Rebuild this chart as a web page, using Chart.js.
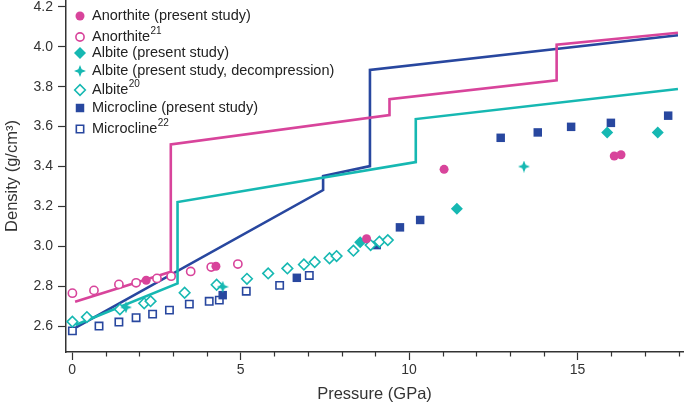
<!DOCTYPE html>
<html>
<head>
<meta charset="utf-8">
<script src="https://cdn.jsdelivr.net/npm/chart.js@4.4.0/dist/chart.umd.min.js"></script>
<style>
  html, body { margin: 0; padding: 0; background: #fff; }
</style>
</head>
<body>
<canvas id="chart" width="685" height="403"></canvas>
<script>
// ---- data ----
// Anorthite (present study), filled circles
const anoP = [2.2, 4.27, 8.74, 11.04, 16.09, 16.29];
const anoD = [2.83, 2.90, 3.038, 3.386, 3.453, 3.459];
// Anorthite ref 21, open circles
const ano21P = [0.01, 0.65, 1.39, 1.90, 2.52, 2.94, 3.52, 4.13, 4.92];
const ano21D = [2.765, 2.779, 2.809, 2.817, 2.839, 2.85, 2.874, 2.896, 2.911];
// Albite (present study), filled diamonds
const albP = [8.55, 11.42, 15.88, 17.38];
const albD = [3.02, 3.188, 3.571, 3.571];
// Albite decompression, stars
const albDecP = [1.6, 4.47, 13.41];
const albDecD = [2.694, 2.797, 3.40];
// Albite ref 20, open diamonds
const alb20P = [0.01, 0.44, 1.42, 2.14, 2.33, 3.34, 4.29, 5.19, 5.82, 6.39, 6.88, 7.20, 7.64, 7.85, 8.35, 8.86, 9.12, 9.37];
const alb20D = [2.622, 2.645, 2.684, 2.714, 2.725, 2.767, 2.807, 2.837, 2.864, 2.889, 2.909, 2.921, 2.94, 2.951, 2.978, 3.006, 3.023, 3.031];
// Microcline (present study), filled squares
const micP = [4.47, 6.67, 9.04, 9.73, 10.33, 12.72, 13.82, 14.81, 15.99, 17.69];
const micD = [2.755, 2.842, 3.006, 3.095, 3.132, 3.544, 3.571, 3.599, 3.619, 3.655];
// Microcline ref 22, open squares
const mic22P = [0.01, 0.80, 1.39, 1.90, 2.39, 2.89, 3.48, 4.07, 4.37, 5.17, 6.16, 7.04];
const mic22D = [2.576, 2.60, 2.62, 2.642, 2.66, 2.68, 2.71, 2.724, 2.73, 2.775, 2.804, 2.854];

// calculated density curves (step lines)
const anoLineP = [0.09, 2.93, 2.93, 9.42, 9.42, 14.38, 14.38, 17.98];
const anoLineD = [2.722, 2.872, 3.511, 3.658, 3.738, 3.832, 4.011, 4.071];
const albLineP = [0.1, 3.13, 3.13, 10.2, 10.2, 17.98];
const albLineD = [2.605, 2.814, 3.222, 3.422, 3.638, 3.789];
const micLineP = [0.12, 7.45, 7.45, 8.84, 8.84, 17.98];
const micLineD = [2.593, 3.282, 3.352, 3.402, 3.884, 4.058];

// axes
const xMajorTicks = [0, 5, 10, 15];
const xMinorTicks = [1, 2, 3, 4, 6, 7, 8, 9, 11, 12, 13, 14, 16, 17, 18];
const yTicks = [2.6, 2.8, 3.0, 3.2, 3.4, 3.6, 3.8, 4.0, 4.2];

// legend
const legendLabels = ['Anorthite (present study)', 'Anorthite', 'Albite (present study)',
  'Albite (present study, decompression)', 'Albite', 'Microcline (present study)', 'Microcline'];
const legendSup = ['', '21', '', '', '20', '', '22'];

const MAGENTA = '#d8449b';
const TEAL = '#16b8b2';
const NAVY = '#28479f';
const AXIS = '#333';
const FONT = "'Liberation Sans', Arial, sans-serif";

function pts(xs, ys) {
    return xs.map((x, i) => ({ x: x, y: ys[i] }));
}

// small four-pointed star for the decompression points
function makeStar(size, color) {
    const c = document.createElement('canvas');
    c.width = size; c.height = size;
    const g = c.getContext('2d');
    const m = size / 2, r = size / 2, k = size * 0.14;
    g.fillStyle = color;
    g.beginPath();
    g.moveTo(m, m - r);
    g.lineTo(m + k, m - k);
    g.lineTo(m + r, m);
    g.lineTo(m + k, m + k);
    g.lineTo(m, m + r);
    g.lineTo(m - k, m + k);
    g.lineTo(m - r, m);
    g.lineTo(m - k, m - k);
    g.closePath();
    g.fill();
    return c;
}
const star = makeStar(12, TEAL);

const legendRows = [16, 37, 53, 71, 90, 108, 129];

// pin the plot frame to the reference position (left 66, right 683, top 0, bottom 352)
const framePlugin = {
    id: 'frame',
    afterLayout(chart) {
        const area = chart.chartArea;
        const xs = chart.scales.x, ys = chart.scales.y;
        area.top = 0;
        area.right = 683;
        area.width = area.right - area.left;
        area.height = area.bottom - area.top;
        xs.right = 683;
        xs.width = xs.right - xs.left;
        xs.configure();
        ys.top = 0;
        ys.height = ys.bottom - ys.top;
        ys.configure();
    },
    // short minor ticks on the pressure axis
    afterDraw(chart) {
        const ctx = chart.ctx;
        const xs = chart.scales.x;
        const y0 = chart.chartArea.bottom;
        ctx.save();
        ctx.strokeStyle = AXIS;
        ctx.lineWidth = 1.2;
        ctx.beginPath();
        xMinorTicks.forEach(v => {
            const px = Math.round(xs.getPixelForValue(v)) + 0.5;
            ctx.moveTo(px, y0);
            ctx.lineTo(px, y0 + 4.5);
        });
        ctx.stroke();
        ctx.restore();
    }
};

const legendPlugin = {
    id: 'customLegend',
    afterDraw(chart) {
        const ctx = chart.ctx;
        ctx.save();
        legendLabels.forEach((label, i) => {
            const ds = chart.data.datasets[i];
            const y = legendRows[i];
            ctx.fillStyle = ds.backgroundColor;
            ctx.strokeStyle = ds.borderColor;
            ctx.lineWidth = ds.borderWidth;
            Chart.helpers.drawPoint(ctx, {
                pointStyle: ds.pointStyle,
                radius: ds.pointRadius,
                borderWidth: ds.borderWidth,
                rotation: 0
            }, 80, y);
            ctx.fillStyle = '#222';
            ctx.font = '14.5px ' + FONT;
            ctx.textBaseline = 'middle';
            ctx.textAlign = 'left';
            ctx.fillText(label, 92, y);
            if (legendSup[i]) {
                const w = ctx.measureText(label).width;
                ctx.font = '10px ' + FONT;
                ctx.fillText(legendSup[i], 92 + w + 0.5, y - 6);
            }
        });
        ctx.restore();
    }
};

const ctx = document.getElementById('chart');

new Chart(ctx, {
    type: 'scatter',
    data: {
        datasets: [
            { data: pts(anoP, anoD), pointStyle: 'circle', pointRadius: 4.5, backgroundColor: MAGENTA, borderColor: MAGENTA, borderWidth: 0 },
            { data: pts(ano21P, ano21D), pointStyle: 'circle', pointRadius: 4.1, backgroundColor: '#ffffff', borderColor: MAGENTA, borderWidth: 1.6 },
            { data: pts(albP, albD), pointStyle: 'rectRot', pointRadius: 6, backgroundColor: TEAL, borderColor: TEAL, borderWidth: 0 },
            { data: pts(albDecP, albDecD), pointStyle: star, pointRadius: 5, backgroundColor: TEAL, borderColor: TEAL, borderWidth: 0 },
            { data: pts(alb20P, alb20D), pointStyle: 'rectRot', pointRadius: 5.3, backgroundColor: '#ffffff', borderColor: TEAL, borderWidth: 1.6 },
            { data: pts(micP, micD), pointStyle: 'rect', pointRadius: 6, backgroundColor: NAVY, borderColor: NAVY, borderWidth: 0 },
            { data: pts(mic22P, mic22D), pointStyle: 'rect', pointRadius: 5.2, backgroundColor: '#ffffff', borderColor: NAVY, borderWidth: 1.6 },
            // lines, drawn beneath the markers
            { data: pts(anoLineP, anoLineD), showLine: true, pointRadius: 0, borderColor: MAGENTA, borderWidth: 2.6, backgroundColor: MAGENTA },
            { data: pts(albLineP, albLineD), showLine: true, pointRadius: 0, borderColor: TEAL, borderWidth: 2.6, backgroundColor: TEAL },
            { data: pts(micLineP, micLineD), showLine: true, pointRadius: 0, borderColor: NAVY, borderWidth: 2.6, backgroundColor: NAVY }
        ]
    },
    options: {
        responsive: false,
        animation: false,
        devicePixelRatio: 1,
        layout: { padding: { top: 0, right: 2, left: 0, bottom: 0 } },
        plugins: { legend: { display: false }, tooltip: { enabled: false } },
        elements: { line: { tension: 0 } },
        scales: {
            x: {
                type: 'linear',
                min: -0.18,
                max: 18.13,
                afterBuildTicks: (scale) => { scale.ticks = xMajorTicks.map(v => ({ value: v })); },
                afterFit: (scale) => { scale.height = 51; },
                ticks: {
                    autoSkip: false,
                    maxRotation: 0,
                    padding: 2,
                    color: AXIS,
                    font: { family: FONT, size: 14 },
                    callback: (v) => String(v)
                },
                grid: { drawOnChartArea: false, tickLength: 8, tickColor: AXIS, tickWidth: 1.2 },
                border: { color: AXIS, width: 1.5 },
                title: { display: true, text: 'Pressure (GPa)', color: AXIS, font: { family: FONT, size: 16.5, lineHeight: 1 }, padding: { top: 2, bottom: 0 } }
            },
            y: {
                type: 'linear',
                min: 2.47,
                max: 4.235,
                afterBuildTicks: (scale) => { scale.ticks = yTicks.map(v => ({ value: v })); },
                afterFit: (scale) => { scale.width = 66; },
                ticks: {
                    padding: 5,
                    color: AXIS,
                    font: { family: FONT, size: 14 },
                    callback: (v) => v.toFixed(1)
                },
                grid: { drawOnChartArea: false, tickLength: 8, tickColor: AXIS, tickWidth: 1.2 },
                border: { color: AXIS, width: 1.5 },
                title: { display: true, text: 'Density (g/cm³)', color: AXIS, font: { family: FONT, size: 16.5, lineHeight: 1 }, padding: { top: 4, bottom: 2 } }
            }
        }
    },
    plugins: [framePlugin, legendPlugin]
});
</script>
</body>
</html>
